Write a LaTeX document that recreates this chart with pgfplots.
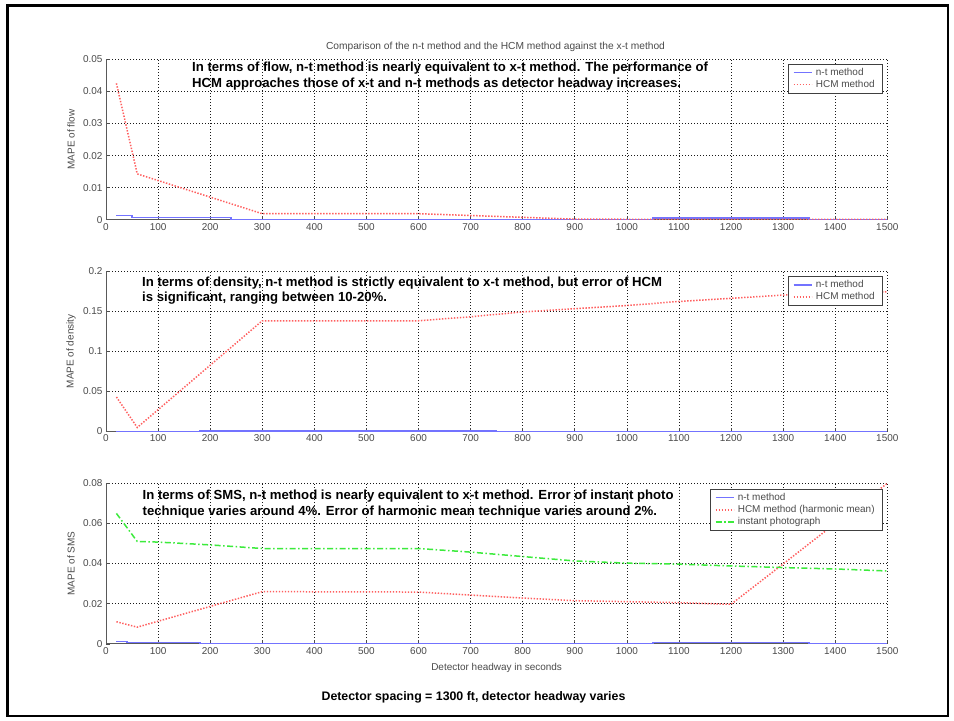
\documentclass[border=0pt]{standalone}
\usepackage{fontspec}
\setmainfont{Liberation Sans}
\usepackage{pgfplots}
\pgfplotsset{compat=1.18}
\definecolor{ntblue}{RGB}{115,115,255}
\definecolor{hcmred}{RGB}{255,95,95}
\definecolor{ipgreen}{RGB}{60,235,60}
\definecolor{txtgray}{RGB}{75,75,75}
\pgfplotsset{
  mat/.style={
    scale only axis, width=781.3bp, height=160.5bp,
    xmin=0, xmax=1500, xtick={0,100,200,300,400,500,600,700,800,900,1000,1100,1200,1300,1400,1500},
    axis x line*=bottom, axis y line*=left,
    grid=major,
    major grid style={black!90, line width=0.7bp, dash pattern=on 1bp off 2bp},
    tick align=inside, major tick length=4bp,
    every tick/.style={black!70, line width=0.6bp},
    axis line style={black!65, line width=0.8bp},
    ticklabel style={font=\fontsize{10}{12}\selectfont, text=txtgray},
    /pgf/number format/assume math mode=true,
    /pgf/number format/1000 sep={},
    scaled y ticks=false,
    yticklabel style={/pgf/number format/fixed, /pgf/number format/precision=2},
    every axis y label/.style={at={([xshift=-35bp]axis description cs:0,0.5)}, rotate=90, anchor=center, font=\fontsize{10}{12}\selectfont, text=txtgray},
    every axis x label/.style={at={([yshift=-24bp]axis description cs:0.5,0)}, anchor=center, font=\fontsize{10}{12}\selectfont, text=txtgray},
    legend cell align=left,
    legend style={font=\fontsize{10}{11}\selectfont, text=txtgray, draw=black!75, line width=0.8bp, fill=white,
      anchor=north east, row sep=0bp, inner xsep=4.5bp, inner ysep=2.4bp,
      nodes={inner xsep=3.5bp, inner ysep=1.3bp, text height=7.5bp, text depth=2bp}},
    legend image code/.code={\draw[#1, line width=1.6bp] (0bp,0bp) -- (18bp,0bp);},
  },
  ntstyle/.style={ntblue, line width=1.6bp},
  hcmstyle/.style={hcmred, line width=1.5bp, dash pattern=on 1.4bp off 1.6bp},
  ipstyle/.style={ipgreen, line width=1.5bp, dash pattern=on 6bp off 2.5bp on 1.5bp off 2.5bp},
}
\begin{document}
\begin{tikzpicture}
\path[use as bounding box, fill=white] (0bp,0bp) rectangle (954bp,-721bp);
\draw[black, line width=2.6bp] (7.5bp,-5.5bp) rectangle (948bp,-716bp);

% ---------- flow ----------
\begin{axis}[mat, at={(106bp,-59.3bp)}, anchor=north west,
  ymin=0, ymax=0.05, ytick={0,0.01,0.02,0.03,0.04,0.05},
  ylabel={MAPE of flow},
  legend style={at={(0.9945,0.973)}}]
\addplot[ntstyle] coordinates {(20,0.0013)(50,0.0013)(50,0.0007)(240,0.0007)(240,0.0001)(1050,0.0001)(1050,0.0005)(1350,0.0005)(1350,0)(1500,0)};
\addlegendentry{n-t method}
\addplot[hcmstyle] coordinates {(20,0.0425)(60,0.0143)(300,0.0019)(600,0.0019)(900,0.0002)(1200,0.0001)(1500,0.0001)};
\addlegendentry{HCM method}
\end{axis}

% ---------- density ----------
\begin{axis}[mat, at={(106bp,-271bp)}, anchor=north west,
  ymin=0, ymax=0.2, ytick={0,0.05,0.1,0.15,0.2},
  ylabel={MAPE of density},
  legend style={at={(0.9945,0.969)}}]
\addplot[ntstyle] coordinates {(20,0)(180,0)(180,0.0003)(750,0.0003)(750,0)(1500,0)};
\addlegendentry{n-t method}
\addplot[hcmstyle] coordinates {(20,0.043)(60,0.005)(300,0.138)(600,0.138)(700,0.143)(800,0.149)(900,0.153)(1000,0.157)(1100,0.162)(1200,0.166)(1300,0.17)(1400,0.172)(1500,0.174)};
\addlegendentry{HCM method}
\end{axis}

% ---------- SMS ----------
\begin{axis}[mat, at={(106bp,-483.3bp)}, anchor=north west,
  ymin=0, ymax=0.08, ytick={0,0.02,0.04,0.06,0.08},
  ylabel={MAPE of SMS},
  xlabel={Detector headway in seconds},
  legend style={at={(0.9945,0.966)}}]
\addplot[ntstyle] coordinates {(20,0.0012)(40,0.0012)(40,0.0007)(180,0.0007)(180,0.0001)(1050,0.0001)(1050,0.0006)(1350,0.0006)(1350,0)(1500,0)};
\addlegendentry{n-t method}
\addplot[hcmstyle] coordinates {(20,0.011)(60,0.0083)(300,0.026)(600,0.0258)(700,0.0243)(800,0.0228)(900,0.0215)(1000,0.021)(1100,0.0205)(1200,0.0197)(1300,0.0398)(1400,0.06)(1500,0.08)};
\addlegendentry{HCM method (harmonic mean)}
\addplot[ipstyle] coordinates {(20,0.065)(60,0.051)(100,0.0507)(200,0.0493)(300,0.0475)(600,0.0475)(700,0.0457)(800,0.0435)(900,0.0413)(1000,0.0402)(1100,0.0397)(1200,0.0388)(1300,0.038)(1400,0.0373)(1500,0.0363)};
\addlegendentry{instant photograph}
\end{axis}

% ---------- texts ----------
\node[anchor=base, inner sep=0, font=\fontsize{10.25}{12}\selectfont, text=txtgray] at (495.5bp,-49bp)
  {Comparison of the n-t method and the HCM method against the x-t method};

\begin{scope}[every node/.style={anchor=base west, inner sep=0, font=\bfseries\fontsize{13.2}{15}\selectfont}]
\node at (192bp,-71.7bp) {In terms of flow, n-t method is nearly equivalent to x-t method. The performance of};
\node at (192bp,-87.7bp) {HCM approaches those of x-t and n-t methods as detector headway increases.};
\node at (142bp,-286bp) {In terms of density, n-t method is strictly equivalent to x-t method, but error of HCM};
\node at (142bp,-301.7bp) {is significant, ranging between 10-20\%.};
\node at (142.5bp,-499.5bp) {In terms of SMS, n-t method is nearly equivalent to x-t method. Error of instant photo};
\node at (142.5bp,-515.5bp) {technique varies around 4\%. Error of harmonic mean technique varies around 2\%.};
\end{scope}

\node[anchor=base, inner sep=0, font=\bfseries\fontsize{12.4}{14}\selectfont] at (473.5bp,-700bp)
  {Detector spacing = 1300 ft, detector headway varies};
\end{tikzpicture}
\end{document}
